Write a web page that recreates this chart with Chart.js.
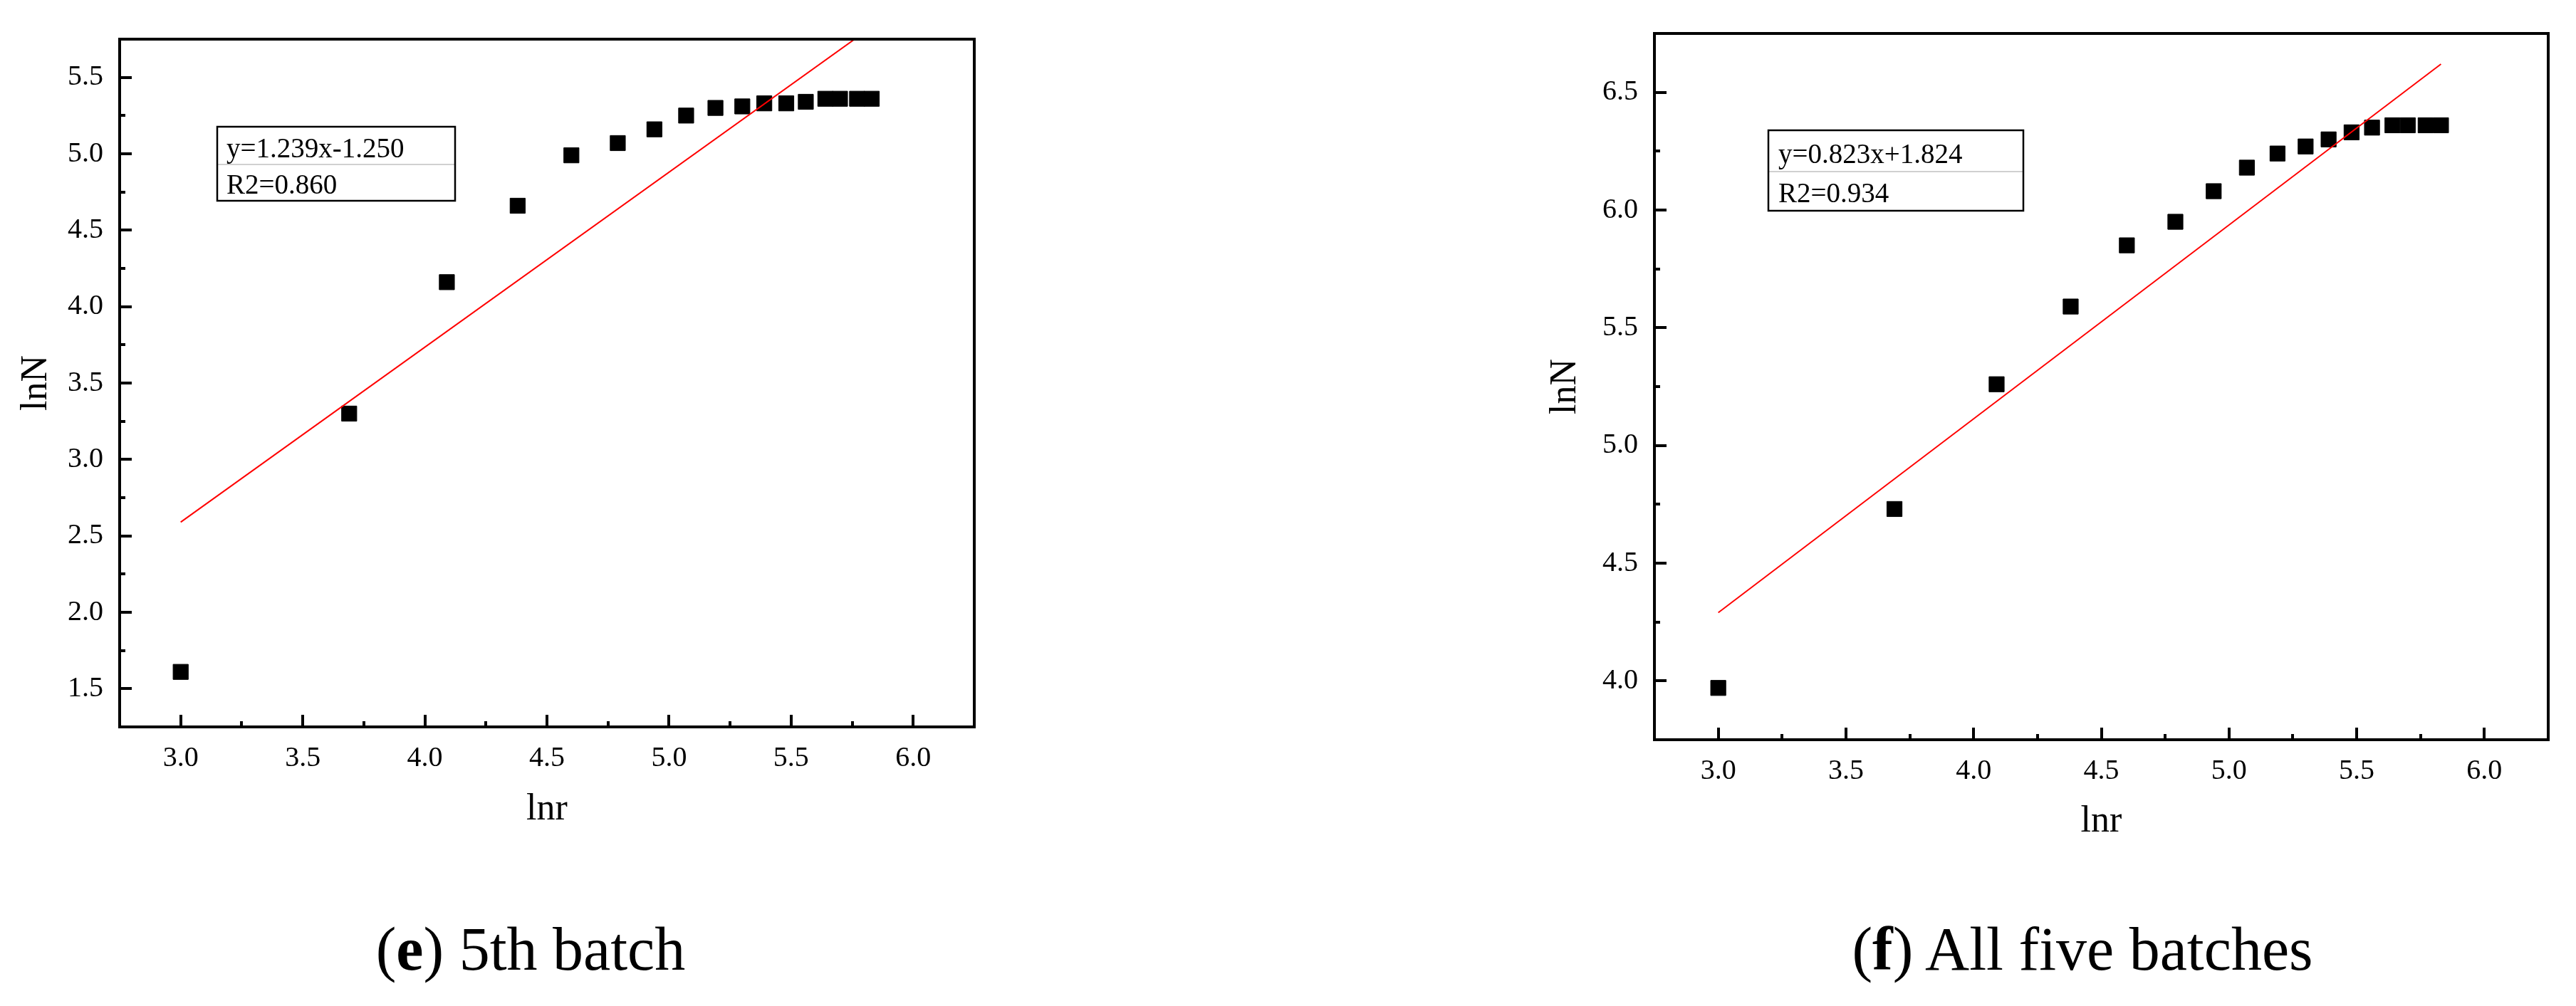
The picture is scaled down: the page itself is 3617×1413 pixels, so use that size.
<!DOCTYPE html>
<html lang="en">
<head>
<meta charset="UTF-8" />
<title>lnN vs lnr</title>
<script src="https://cdn.jsdelivr.net/npm/chart.js"></script>
<style>
  body {
    margin: 0;
    width: 3617px;
    height: 1413px;
    background: #fff;
    position: relative;
    overflow: hidden;
    font-family: "Liberation Serif", serif;
  }
  .panel { position: absolute; top: 0; }
  .caption {
    position: absolute;
    top: 1290px;
    width: 1000px;
    font-size: 86px;
    line-height: 86px;
    text-align: center;
    color: #000;
  }
</style>
</head>
<body>

<div class="panel" style="left:0px;"><canvas id="chartE" width="1400" height="1200"></canvas></div>
<div class="panel" style="left:2150px;"><canvas id="chartF" width="1467" height="1200"></canvas></div>

<div class="caption" style="left:245px;">(<b>e</b>) 5th batch</div>
<div class="caption" style="left:2424px;">(<b>f</b>) All five batches</div>

<script>
// lnr values (shared by both panels)
const lnr = [3.00, 3.69, 4.09, 4.38, 4.60, 4.79, 4.94, 5.07, 5.19, 5.30, 5.39, 5.48, 5.56, 5.64, 5.70, 5.77, 5.83];

// (e) 5th batch
const lnN_e = [1.61, 3.30, 4.16, 4.66, 4.99, 5.07, 5.16, 5.25, 5.30, 5.31, 5.33, 5.33, 5.34, 5.36, 5.36, 5.36, 5.36];
const fitX_e = [3.00, 5.83];
const fitY_e = [2.59, 5.83];
const eq_e = ["y=1.239x-1.250", "R2=0.860"];

// (f) all five batches
const lnN_f = [3.97, 4.73, 5.26, 5.59, 5.85, 5.95, 6.08, 6.18, 6.24, 6.27, 6.30, 6.33, 6.35, 6.36, 6.36, 6.36, 6.36];
const fitX_f = [3.00, 5.83];
const fitY_f = [4.29, 6.62];
const eq_f = ["y=0.823x+1.824", "R2=0.934"];

// axes
const xTicks = [3.0, 3.5, 4.0, 4.5, 5.0, 5.5, 6.0];
const xMinor = [3.25, 3.75, 4.25, 4.75, 5.25, 5.75];
const yTicks_e = [1.5, 2.0, 2.5, 3.0, 3.5, 4.0, 4.5, 5.0, 5.5];
const yMinor_e = [1.75, 2.25, 2.75, 3.25, 3.75, 4.25, 4.75, 5.25];
const yTicks_f = [4.0, 4.5, 5.0, 5.5, 6.0, 6.5];
const yMinor_f = [4.25, 4.75, 5.25, 5.75, 6.25];

const FONT = "'Liberation Serif', serif";

function pairs(xs, ys) {
  return xs.map((x, i) => ({ x: x, y: ys[i] }));
}

// frame, inward ticks and the equation box
const framePlugin = {
  id: "frame",
  afterDatasetsDraw(chart, args, opts) {
    const ctx = chart.ctx;
    const a = chart.chartArea;
    const xs = chart.scales.x, ys = chart.scales.y;
    ctx.save();
    ctx.strokeStyle = "#000";
    ctx.lineWidth = 4;
    ctx.lineCap = "butt";

    ctx.beginPath();
    opts.xMajor.forEach(v => {
      const px = Math.round(xs.getPixelForValue(v));
      ctx.moveTo(px, a.bottom); ctx.lineTo(px, a.bottom - 17);
    });
    opts.xMinor.forEach(v => {
      const px = Math.round(xs.getPixelForValue(v));
      ctx.moveTo(px, a.bottom); ctx.lineTo(px, a.bottom - 8);
    });
    opts.yMajor.forEach(v => {
      const py = Math.round(ys.getPixelForValue(v));
      ctx.moveTo(a.left, py); ctx.lineTo(a.left + 17, py);
    });
    opts.yMinor.forEach(v => {
      const py = Math.round(ys.getPixelForValue(v));
      ctx.moveTo(a.left, py); ctx.lineTo(a.left + 8, py);
    });
    ctx.stroke();

    ctx.strokeRect(a.left, a.top, a.right - a.left, a.bottom - a.top);

    // equation box
    const b = opts.box;
    const bx = a.left + b.dx, by = a.top + b.dy;
    ctx.fillStyle = "#fff";
    ctx.fillRect(bx, by, b.w, b.h);
    ctx.strokeStyle = "#d0d0d0";
    ctx.lineWidth = 2;
    ctx.beginPath();
    ctx.moveTo(bx + 1, by + b.sep); ctx.lineTo(bx + b.w - 1, by + b.sep);
    ctx.stroke();
    ctx.strokeStyle = "#000";
    ctx.lineWidth = 2.5;
    ctx.strokeRect(bx, by, b.w, b.h);
    ctx.fillStyle = "#000";
    ctx.font = "39px " + FONT;
    ctx.textBaseline = "alphabetic";
    ctx.textAlign = "left";
    ctx.fillText(opts.lines[0], bx + b.tx, by + b.base1);
    ctx.fillText(opts.lines[1], bx + b.tx, by + b.base2);
    ctx.restore();
  }
};

function makeChart(id, cfg) {
  return new Chart(document.getElementById(id), {
    type: "scatter",
    data: {
      datasets: [
        {
          type: "line",
          data: pairs(cfg.fitX, cfg.fitY),
          borderColor: "#ff0000",
          borderWidth: 2,
          pointRadius: 0,
          fill: false,
          tension: 0
        },
        {
          data: pairs(lnr, cfg.lnN),
          pointStyle: "rect",
          pointRadius: 15,
          pointHoverRadius: 15,
          backgroundColor: "#000",
          borderColor: "#000",
          borderWidth: 1
        }
      ]
    },
    options: {
      responsive: false,
      animation: false,
      events: [],
      layout: { padding: cfg.padding },
      plugins: {
        legend: { display: false },
        tooltip: { enabled: false },
        frame: {
          xMajor: xTicks, xMinor: xMinor,
          yMajor: cfg.yTicks, yMinor: cfg.yMinor,
          box: cfg.box, lines: cfg.eq
        }
      },
      scales: {
        x: {
          type: "linear",
          min: 2.75,
          max: 6.25,
          afterBuildTicks: s => { s.ticks = xTicks.map(v => ({ value: v })); },
          afterFit: s => { s.height = cfg.xAxisHeight; },
          grid: { display: false, drawTicks: false },
          border: { display: false },
          ticks: {
            color: "#000",
            font: { family: FONT, size: 40 },
            padding: 20,
            maxRotation: 0,
            autoSkip: false,
            callback: v => v.toFixed(1)
          },
          title: {
            display: true,
            text: "lnr",
            color: "#000",
            font: { family: FONT, size: 52 },
            padding: { top: 0, bottom: cfg.xTitlePad }
          }
        },
        y: {
          type: "linear",
          min: cfg.yMin,
          max: cfg.yMax,
          afterBuildTicks: s => { s.ticks = cfg.yTicks.map(v => ({ value: v })); },
          afterFit: s => { s.width = cfg.yAxisWidth; },
          grid: { display: false, drawTicks: false },
          border: { display: false },
          ticks: {
            color: "#000",
            font: { family: FONT, size: 40 },
            padding: 23,
            autoSkip: false,
            callback: v => v.toFixed(1)
          },
          title: {
            display: true,
            text: "lnN",
            color: "#000",
            font: { family: FONT, size: 52 },
            padding: { top: cfg.yTitlePad, bottom: 0 }
          }
        }
      }
    },
    plugins: [framePlugin]
  });
}

makeChart("chartE", {
  lnN: lnN_e, fitX: fitX_e, fitY: fitY_e, eq: eq_e,
  yMin: 1.25, yMax: 5.75, yTicks: yTicks_e, yMinor: yMinor_e,
  padding: { left: 0, top: 55, right: 32, bottom: 0 },
  yAxisWidth: 168, xAxisHeight: 179,
  xTitlePad: 31, yTitlePad: 20,
  box: { dx: 137, dy: 123, w: 334, h: 104, sep: 53, tx: 13, base1: 43, base2: 94 }
});

makeChart("chartF", {
  lnN: lnN_f, fitX: fitX_f, fitY: fitY_f, eq: eq_f,
  yMin: 3.75, yMax: 6.75, yTicks: yTicks_f, yMinor: yMinor_f,
  padding: { left: 0, top: 35, right: 39, bottom: 0 },
  yAxisWidth: 173, xAxisHeight: 161,
  xTitlePad: 14, yTitlePad: 17,
  box: { dx: 160, dy: 136, w: 358, h: 113, sep: 58, tx: 14, base1: 46, base2: 101 }
});
</script>
</body>
</html>
